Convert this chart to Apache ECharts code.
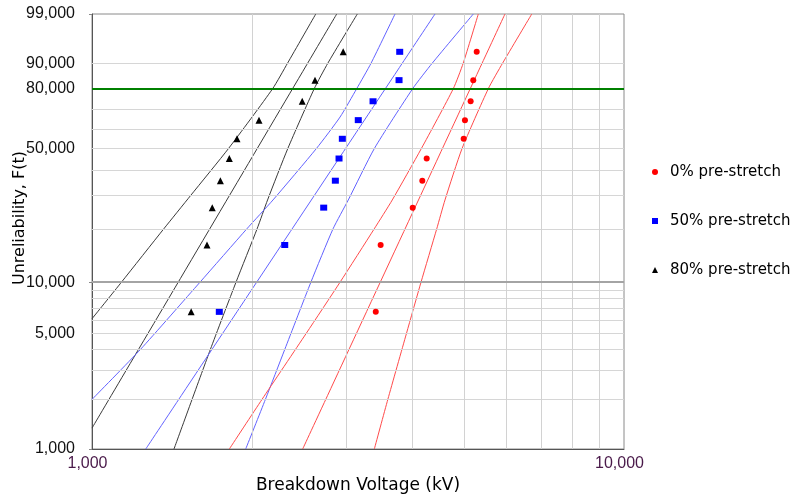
<!DOCTYPE html>
<html>
<head>
<meta charset="utf-8">
<script src="https://cdn.jsdelivr.net/npm/echarts@6/dist/echarts.min.js"></script>
<style>
  html, body { margin: 0; padding: 0; background: #fff; }
  #chart { width: 796px; height: 495px; }
</style>
</head>
<body>
<div id="chart"></div>
<script>
// Breakdown voltage (kV) and median-rank unreliability (%) per sample group
const rank = [6.7, 16.3, 26.0, 35.6, 45.2, 54.8, 64.4, 74.0, 83.7, 93.3];
const kv0  = [3415, 3488, 4007, 4177, 4257, 4996, 5024, 5149, 5208, 5286];
const kv50 = [1735, 2303, 2726, 2867, 2913, 2955, 3166, 3375, 3777, 3788];
const kv80 = [1536, 1645, 1683, 1743, 1812, 1873, 2060, 2484, 2625, 2966];

// Fitted lines and confidence bounds: [kV, unreliability %]
const fit0   = [[2489, 1], [5974, 99]];
const upper0 = [[1812, 1], [2087, 2], [2528, 5], [2926, 10], [3392, 20], [3668, 28.5], [4161, 50], [4777, 80], [4986, 90], [5323, 99]];
const lower0 = [[3394, 1], [3598, 2], [3901, 5], [4154, 10], [4446, 20], [4608, 28.5], [4962, 50], [5559, 80], [5912, 90], [6709, 99]];

const fit50   = [[1262, 1], [4413, 99]];
const upper50 = [[1000, 2.0], [1233, 4], [1596, 10], [1954, 20], [2189, 28.5], [2642, 50], [2926, 66], [3145, 80], [3346, 90], [3712, 99]];
const lower50 = [[1945, 1], [2118, 2], [2303, 4], [2579, 10], [2838, 20], [3032, 28.5], [3395, 50], [4007, 80], [4360, 90], [5209, 99]];

const fit80   = [[1000, 1.34], [2884, 99]];
const upper80 = [[1000, 6.1], [1136, 10], [1364, 20], [1532, 30], [1806, 50], [2186, 80], [2331, 90], [2634, 99]];
const lower80 = [[1426, 1], [1669, 4], [1865, 10], [2043, 20], [2138, 28.5], [2334, 50], [2617, 80], [2775, 90], [3153, 99]];

// Axis ticks
const yTickPct    = [1, 5, 10, 50, 80, 90, 99];
const yTickLabels = ['1,000', '5,000', '10,000', '50,000', '80,000', '90,000', '99,000'];
const yGridPct    = [2, 3, 4, 5, 6, 7, 8, 9, 20, 30, 40, 50, 60, 70, 90];
const xGridKv     = [2000, 3000, 4000, 5000, 6000, 7000, 8000, 9000];

// Weibull probability scale
const wb = p => Math.log(-Math.log(1 - p / 100));
const toPlot = pts => pts.map(([x, p]) => [x, wb(p)]);
const pointsOf = kv => kv.map((x, i) => [x, wb(rank[i])]);

const fontUI = 'DejaVu Sans';
const fontNum = 'Liberation Sans';

const curve = (data, color) => ({
  type: 'line', data: toPlot(data), smooth: 0.2, symbol: 'none', showSymbol: false,
  lineStyle: { color, width: 1 }, silent: true, z: 3, clip: true
});

const gridMarks = {
  silent: true, symbol: ['none', 'none'], animation: false,
  label: { show: false }, emphasis: { disabled: true },
  data: [
    ...yGridPct.map(p => ({ yAxis: wb(p), lineStyle: { color: '#d6d6d6', width: 1, type: 'solid' } })),
    ...xGridKv.map(x => ({ xAxis: x, lineStyle: { color: '#d2d2d2', width: 1, type: 'solid' } })),
    { yAxis: wb(10), lineStyle: { color: '#a4a4a4', width: 2, type: 'solid' } },
    { yAxis: wb(80), lineStyle: { color: '#008000', width: 2, type: 'solid' } }
  ]
};

const chart = echarts.init(document.getElementById('chart'));
chart.setOption({
  animation: false,
  backgroundColor: '#fff',
  grid: {
    left: 92, right: 172, top: 14, bottom: 46, show: true,
    borderColor: '#8a8a8a', borderWidth: 1, containLabel: false, outerBoundsMode: 'none'
  },
  xAxis: {
    type: 'log', logBase: 10, min: 1000, max: 10000,
    name: 'Breakdown Voltage (kV)', nameLocation: 'middle', nameGap: 27,
    nameTextStyle: { fontFamily: fontUI, fontSize: 17, color: '#000' },
    axisLine: { onZero: false, lineStyle: { color: '#555', width: 1 } },
    axisTick: { show: false },
    splitLine: { show: false },
    axisLabel: {
      margin: 7,
      formatter: v => '{n|' + Math.round(v).toLocaleString('en-US') + '}',
      rich: { n: { fontFamily: fontNum, fontSize: 16, color: '#4a1a4a', padding: [0, 9, 0, 0] } }
    }
  },
  yAxis: {
    type: 'value', min: wb(1), max: wb(99),
    axisLine: { show: true, onZero: false, lineStyle: { color: '#555', width: 1 } },
    axisTick: { show: true, customValues: [wb(1), wb(10), wb(99)], length: 3, lineStyle: { color: '#888' } },
    splitLine: { show: false },
    axisLabel: {
      customValues: yTickPct.map(wb),
      margin: 17,
      formatter: v => {
        let best = 0;
        yTickPct.forEach((p, i) => { if (Math.abs(wb(p) - v) < Math.abs(wb(yTickPct[best]) - v)) best = i; });
        return '{n|' + yTickLabels[best] + '}';
      },
      rich: { n: { fontFamily: fontNum, fontSize: 16, color: '#111' } }
    }
  },
  legend: {
    data: ['0% pre-stretch', '50% pre-stretch', '80% pre-stretch'],
    orient: 'vertical', left: 652, top: 163, itemGap: 31, padding: 0,
    itemWidth: 6, itemHeight: 6, selectedMode: false,
    textStyle: { fontFamily: fontUI, fontSize: 15, color: '#000', lineHeight: 18, padding: [0, 0, 0, 7] }
  },
  graphic: [{
    type: 'text', x: 20, y: 218, rotation: Math.PI / 2,
    style: { text: 'Unreliability, F(t)', font: '16px "DejaVu Sans"', fill: '#000', align: 'center', verticalAlign: 'middle' }
  }],
  series: [
    { type: 'line', data: [], z: 1, silent: true, markLine: gridMarks },
    curve(upper80, '#3a3a3a'), curve(fit80, '#3a3a3a'), curve(lower80, '#3a3a3a'),
    curve(upper50, '#6262ff'), curve(fit50, '#6262ff'), curve(lower50, '#6262ff'),
    curve(upper0, '#ff4a4a'), curve(fit0, '#ff4a4a'), curve(lower0, '#ff4a4a'),
    { name: '0% pre-stretch', type: 'scatter', data: pointsOf(kv0), symbol: 'circle', symbolSize: 6,
      itemStyle: { color: '#ff0000', opacity: 1 }, z: 5 },
    { name: '50% pre-stretch', type: 'scatter', data: pointsOf(kv50), symbol: 'rect', symbolSize: [7, 6],
      itemStyle: { color: '#0000ff', opacity: 1 }, z: 5 },
    { name: '80% pre-stretch', type: 'scatter', data: pointsOf(kv80), symbol: 'triangle', symbolSize: 7,
      itemStyle: { color: '#000000', opacity: 1 }, z: 5 }
  ]
});
</script>
</body>
</html>
